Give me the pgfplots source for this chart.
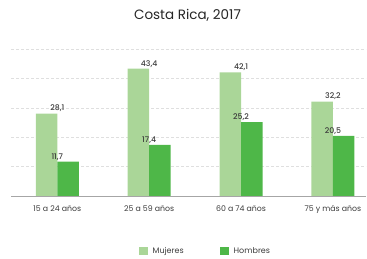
\documentclass[border=0pt]{standalone}
\usepackage{pgfplots}
\pgfplotsset{compat=1.18}
\usepackage{fontspec}
\setmainfont{Poppins}
\newfontfamily\pmed{Poppins Medium}
\definecolor{muj}{RGB}{170,214,152}
\definecolor{hom}{RGB}{78,183,72}
\definecolor{txt}{RGB}{60,60,60}
\begin{document}
\begin{tikzpicture}[x=1pt,y=1pt]
\path[use as bounding box] (0,0) rectangle (367,259);
\begin{axis}[
  at={(11pt,63pt)}, anchor=south west,
  scale only axis, width=355pt, height=146.7pt,
  xmin=-0.504, xmax=3.36, ymin=0, ymax=50,
  axis y line*=left,
  y axis line style={draw=none},
  yticklabels={},
  major y tick style={draw=none},
  axis x line*=bottom,
  x axis line style={gray!70, line width=0.9pt, -},
  xtick={0,1,2,3},
  xticklabels={15 a 24 años,25 a 59 años,60 a 74 años,75 y más años},
  x tick label style={font=\fontsize{7.8}{9}\selectfont, text=txt, yshift=-6pt},
  major x tick style={draw=none},
  ytick={10,20,30,40,50},
  ymajorgrids, grid style={densely dashed, gray!25, line width=0.4pt},
  clip=false,
  /pgf/number format/assume math mode=true,
  nodes near coords,
  every node near coord/.append style={font=\pmed\fontsize{7.8}{8}\selectfont, text=txt, yshift=-2pt},
  nodes near coords={\pgfmathprintnumber[fixed,fixed zerofill,precision=1,use comma,assume math mode=true]{\pgfplotspointmeta}},
]
\addplot[ybar, bar width=21.5pt, bar shift=-10.75pt, fill=muj, draw=none] coordinates {(0,28.1) (1,43.4) (2,42.1) (3,32.2)};
\addplot[ybar, bar width=21.5pt, bar shift=10.75pt, fill=hom, draw=none] coordinates {(0,11.7) (1,17.4) (2,25.2) (3,20.5)};
\end{axis}
\node[font=\fontsize{13.5}{15}\selectfont, text=black!85] at (187.5,244) {Costa Rica, 2017};
\fill[muj] (139.3,3.8) rectangle (147.7,12.2);
\node[anchor=west, font=\fontsize{8}{9}\selectfont, text=txt, inner sep=0pt] at (152.5,8) {Mujeres};
\fill[hom] (220.3,3.8) rectangle (228.7,12.2);
\node[anchor=west, font=\fontsize{8}{9}\selectfont, text=txt, inner sep=0pt] at (233.5,8) {Hombres};
\end{tikzpicture}
\end{document}
